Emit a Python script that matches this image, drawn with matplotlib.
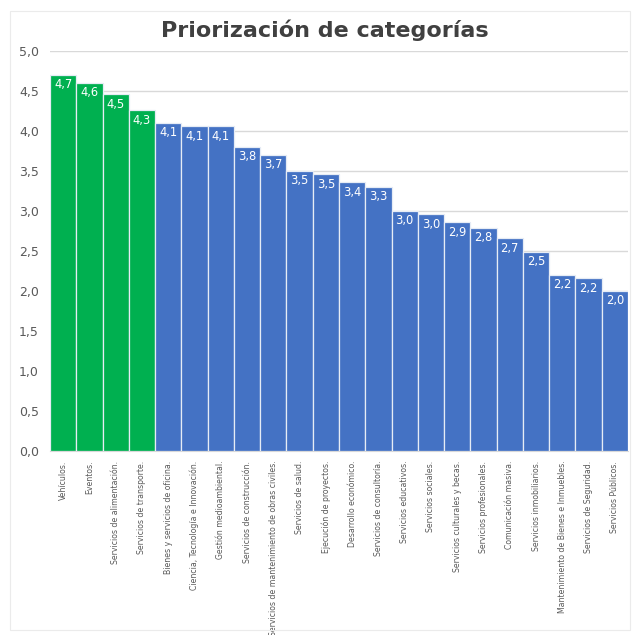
import matplotlib.pyplot as plt
from matplotlib.patches import Rectangle

CATEGORIES = [
    "Vehículos.", "Eventos.", "Servicios de alimentación.", "Servicios de transporte.",
    "Bienes y servicios de oficina.", "Ciencia, Tecnología e Innovación.",
    "Gestión medioambiental.", "Servicios de construcción.",
    "Servicios de mantenimiento de obras civiles.", "Servicios de salud.",
    "Ejecución de proyectos.", "Desarrollo económico.", "Servicios de consultoría.",
    "Servicios educativos.", "Servicios sociales.", "Servicios culturales y becas.",
    "Servicios profesionales.", "Comunicación masiva.", "Servicios inmobiliarios.",
    "Mantenimiento de Bienes e Inmuebles.", "Servicios de Seguridad.", "Servicios Públicos.",
]
VALUES = [4.70, 4.60, 4.46, 4.26, 4.10, 4.06, 4.06, 3.80, 3.70, 3.50, 3.46,
          3.36, 3.30, 3.00, 2.96, 2.86, 2.79, 2.66, 2.49, 2.20, 2.16, 2.00]
N_HIGHLIGHT = 4

GREEN = "#00B050"
BLUE = "#4472C4"
GRAY = "#595959"

W, H = 634, 635
fig = plt.figure(figsize=(W / 100, H / 100), dpi=100)
fig.patches.append(Rectangle((10 / W, 1 - 630 / H), 620 / W, 619 / H,
                             transform=fig.transFigure, fill=False,
                             edgecolor="#ebebeb", linewidth=0.8))

ax = fig.add_axes([50 / W, 1 - 451 / H, 578 / W, 400 / H])
colors = [GREEN if i < N_HIGHLIGHT else BLUE for i in range(len(VALUES))]
x = range(len(VALUES))
ax.bar(x, VALUES, width=1.0, color=colors, edgecolor="#e6ecf5", linewidth=0.9, zorder=3)

for i, v in enumerate(VALUES):
    ax.annotate(f"{v:.1f}".replace(".", ","), (i, v), xytext=(0, -2.5),
                textcoords="offset points", ha="center", va="top",
                color="white", fontsize=8.3, fontfamily="DejaVu Sans", zorder=4)

ax.set_xlim(-0.5, len(VALUES) - 0.5)
ax.set_ylim(0, 5)
yt = [i * 0.5 for i in range(11)]
ax.set_yticks(yt)
ax.set_yticklabels([f"{t:.1f}".replace(".", ",") for t in yt], color=GRAY,
                   fontsize=9, fontfamily="DejaVu Sans")
ax.set_xticks(list(x))
ax.set_xticklabels(CATEGORIES, rotation=90, va="top", ha="center", color=GRAY,
                   fontsize=6.2, fontfamily="DejaVu Sans", fontstretch="condensed")
ax.tick_params(axis="both", length=0)
ax.tick_params(axis="x", pad=7)
ax.tick_params(axis="y", pad=8)
ax.grid(axis="y", color="#d9d9d9", linewidth=1.0, zorder=0)
for s in ["top", "right", "left"]:
    ax.spines[s].set_visible(False)
ax.spines["bottom"].set_color("#d9d9d9")

fig.text(325 / W, 1 - 30 / H, "Priorización de categorías", ha="center", va="center",
         fontsize=16, fontweight="bold", color="#404040", fontfamily="DejaVu Sans")

fig.savefig("out.png", dpi=100)
